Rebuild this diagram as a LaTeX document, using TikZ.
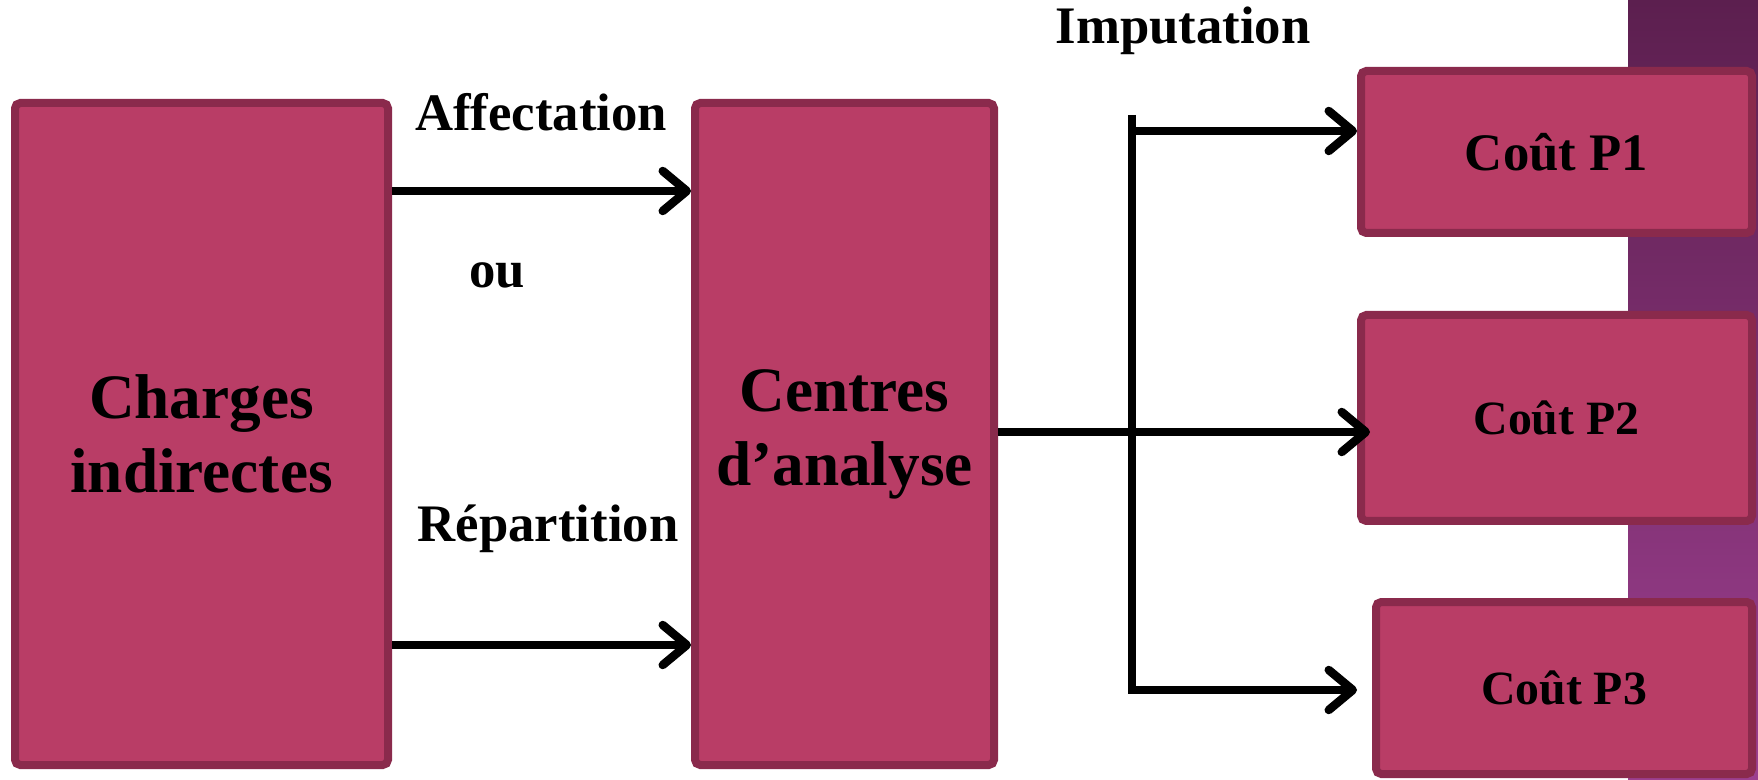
\documentclass[tikz,border=0pt]{standalone}
\usepackage{fontspec}
\setmainfont{Liberation Serif}
\usetikzlibrary{arrows.meta}
\definecolor{boxfill}{HTML}{B93D66}
\definecolor{boxline}{HTML}{8A2A4C}
\definecolor{stripdark}{HTML}{5C1F4F}
\definecolor{striplight}{HTML}{9C3F8F}

\begin{document}
\begin{tikzpicture} [
  box/.style = {draw=boxline, fill=boxfill, line width=.08cm, rounded corners=1.5pt, align=center, inner sep=0pt},
  big/.style = {font=\fontsize{18}{21}\selectfont\bfseries},
  mid/.style = {font=\fontsize{15}{18}\selectfont\bfseries},
  small/.style = {font=\fontsize{13.6}{16}\selectfont\bfseries},
  arr/.style = {line width=.085cm, -{Straight Barb[round, length=.24cm, width=.4cm]}}
]
\useasboundingbox (0,0) rectangle (17.58,-7.80);
\shade[top color=stripdark, bottom color=striplight] (16.28,0) rectangle (17.58,-7.80);

\node[box, big, minimum width=3.73cm, minimum height=6.62cm] (ch) at (2.015,-4.34) {Charges\\indirectes};
\node[box, big, minimum width=2.99cm, minimum height=6.62cm] (ca) at (8.445,-4.34) {Centres\\d’analyse};
\node[box, mid, minimum width=3.91cm, minimum height=1.62cm] (p1) at (15.565,-1.52) {Coût P1};
\node[box, small, minimum width=3.91cm, minimum height=2.06cm] (p2) at (15.565,-4.18) {Coût P2};
\node[box, small, minimum width=3.76cm, minimum height=1.72cm] (p3) at (15.64,-6.88) {Coût P3};

\node[mid] (imp) at (11.83,-0.31) {Imputation};
\node[mid] (aff) at (5.41,-1.12) {Affectation};
\node[mid] (ou) at (4.97,-2.75) {ou};
\node[mid] (rep) at (5.48,-5.29) {Répartition};

\coordinate (top) at (11.32,-1.15);
\coordinate (bot) at (11.32,-6.90);
\coordinate (p1in) at ([yshift=.21cm]p1.west);

\draw[arr] (ch.east |- 0,-1.91) -- (ca.west |- 0,-1.91);
\draw[arr] (ch.east |- 0,-6.45) -- (ca.west |- 0,-6.45);
\draw[arr] (ca.east |- 0,-4.32) -- ([xshift=.13cm]p2.west |- 0,-4.32);
\draw[arr] (top) -- (bot) -- ([xshift=-.15cm]p3.west |- bot);
\draw[arr] (top |- p1in) -- (p1in);
\end{tikzpicture}
\end{document}
